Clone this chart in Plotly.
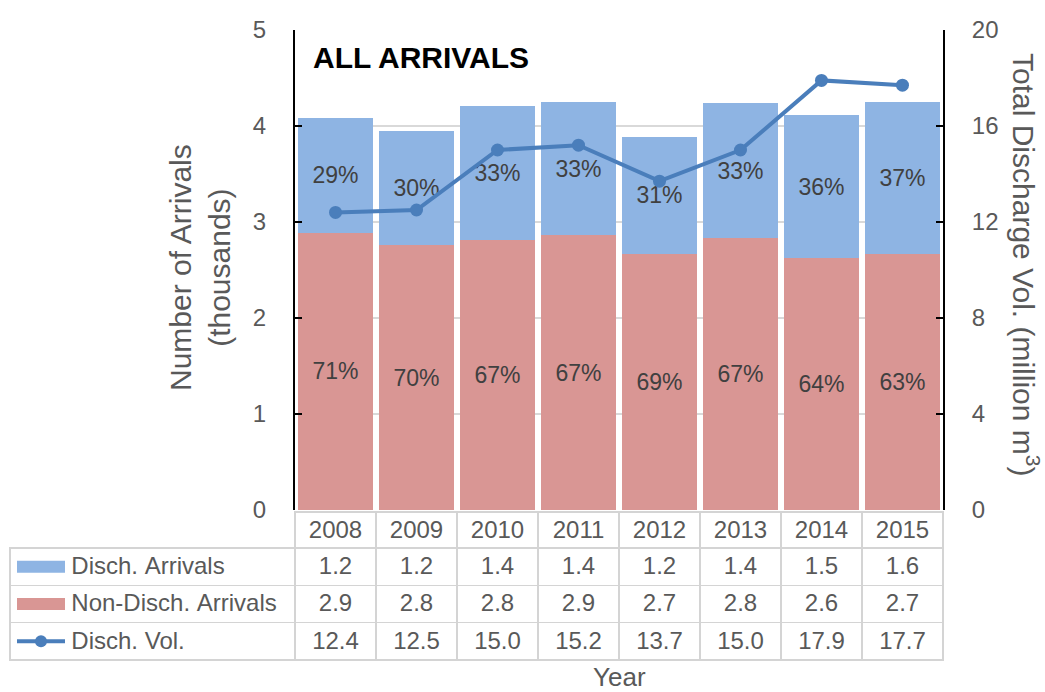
import plotly.graph_objects as go

# ---------------- data ----------------
years = ["2008", "2009", "2010", "2011", "2012", "2013", "2014", "2015"]
disch_arrivals = [1.19, 1.19, 1.40, 1.39, 1.22, 1.41, 1.49, 1.58]      # thousands
non_disch_arrivals = [2.89, 2.76, 2.81, 2.86, 2.67, 2.83, 2.62, 2.67]  # thousands
disch_vol = [12.4, 12.5, 15.0, 15.2, 13.7, 15.0, 17.9, 17.7]          # million m3
series_names = ["Disch. Arrivals", "Non-Disch. Arrivals", "Disch. Vol."]
left_ticks = [0, 1, 2, 3, 4, 5]
right_ticks = [0, 4, 8, 12, 16, 20]

# ---------------- style ----------------
BLUE = "#8EB4E3"
RED = "#D99694"
LINE = "#4A7EBB"
TXT = "#595959"
FONT = "Liberation Sans, Arial, sans-serif"
GRID = "#D4D4D4"

W, H = 1045, 692
ML, MR = 10, 10
PW = W - ML - MR


def px_x(px):
    return (px - ML) / PW


def px_y(py):
    return 1 - py / H


totals = [d + n for d, n in zip(disch_arrivals, non_disch_arrivals)]
pct_d = [round(100 * d / t) for d, t in zip(disch_arrivals, totals)]
pct_n = [100 - p for p in pct_d]

fig = go.Figure()

fig.add_trace(go.Bar(
    x=years, y=non_disch_arrivals, name=series_names[1],
    marker=dict(color=RED, line=dict(width=0)),
    text=[f"{p}%" for p in pct_n], textposition="inside",
    insidetextanchor="middle", textangle=0, constraintext="none",
    textfont=dict(size=23, color="#404040", family=FONT),
))
fig.add_trace(go.Bar(
    x=years, y=disch_arrivals, name=series_names[0],
    marker=dict(color=BLUE, line=dict(width=0)),
    text=[f"{p}%" for p in pct_d], textposition="inside",
    insidetextanchor="middle", textangle=0, constraintext="none",
    textfont=dict(size=23, color="#404040", family=FONT),
))
fig.add_trace(go.Scatter(
    x=years, y=disch_vol, yaxis="y2", name=series_names[2],
    mode="lines+markers", line=dict(color=LINE, width=4),
    marker=dict(color=LINE, size=13),
))

# data table (legend labels padded so the keys fit to their left)
NB = "\u00a0"
row_labels = [NB * 8 + s.replace(" ", NB) for s in series_names]
cols = [row_labels]
for i in range(len(years)):
    cols.append([f"{disch_arrivals[i]:.1f}", f"{non_disch_arrivals[i]:.1f}", f"{disch_vol[i]:.1f}"])

HDR_H, ROW_H, TAB_TOP = 36, 37.3, 512
fig.add_trace(go.Table(
    domain=dict(x=[px_x(ML), px_x(943)], y=[0, px_y(TAB_TOP)]),
    columnwidth=[285] + [81] * len(years),
    header=dict(
        values=[""] + years,
        height=HDR_H,
        fill=dict(color=["rgba(0,0,0,0)"] + ["white"] * len(years)),
        line=dict(color=["rgba(0,0,0,0)"] + [GRID] * len(years), width=1.5),
        font=dict(size=24, color=TXT, family=FONT),
        align="center",
    ),
    cells=dict(
        values=cols,
        height=ROW_H,
        fill_color="white",
        line=dict(color=GRID, width=1.5),
        font=dict(size=24, color=TXT, family=FONT),
        align=["left"] + ["center"] * len(years),
    ),
))

# legend keys inside the table's first column
row_c = [TAB_TOP + HDR_H + ROW_H * (i + 0.5) for i in range(3)]
shapes = [
    dict(type="rect", xref="paper", yref="paper", x0=px_x(17), x1=px_x(65),
         y0=px_y(row_c[0] + 6), y1=px_y(row_c[0] - 6), fillcolor=BLUE, line=dict(width=0)),
    dict(type="rect", xref="paper", yref="paper", x0=px_x(17), x1=px_x(65),
         y0=px_y(row_c[1] + 6), y1=px_y(row_c[1] - 6), fillcolor=RED, line=dict(width=0)),
    dict(type="line", xref="paper", yref="paper", x0=px_x(17), x1=px_x(65),
         y0=px_y(row_c[2]), y1=px_y(row_c[2]), line=dict(color=LINE, width=4)),
    dict(type="circle", xref="paper", yref="paper", x0=px_x(35), x1=px_x(47),
         y0=px_y(row_c[2] + 6), y1=px_y(row_c[2] - 6), fillcolor=LINE, line=dict(width=0)),
]

annotations = [
    dict(text="<b>ALL ARRIVALS</b>", x=px_x(311), y=px_y(58), xref="paper", yref="paper",
         xanchor="left", yanchor="middle", showarrow=False,
         font=dict(size=30, color="black", family=FONT)),
    dict(text="Number of Arrivals<br>(thousands)", x=px_x(200), y=px_y(268),
         xref="paper", yref="paper", textangle=-90, showarrow=False,
         xanchor="center", yanchor="middle",
         font=dict(size=30, color=TXT, family=FONT)),
    dict(text="Total Discharge Vol. (million m<sup>3</sup>)", x=px_x(1026), y=px_y(265),
         xref="paper", yref="paper", textangle=90, showarrow=False,
         xanchor="center", yanchor="middle",
         font=dict(size=30, color=TXT, family=FONT)),
    dict(text="Year", x=px_x(619), y=px_y(677), xref="paper", yref="paper",
         showarrow=False, xanchor="center", yanchor="middle",
         font=dict(size=26, color=TXT, family=FONT)),
]

fig.update_layout(
    width=W, height=H,
    margin=dict(l=ML, r=MR, t=0, b=0, autoexpand=False),
    paper_bgcolor="white", plot_bgcolor="white",
    barmode="stack", bargap=0.075,
    showlegend=False,
    font=dict(family=FONT, color=TXT),
    xaxis=dict(domain=[px_x(295), px_x(943)], showticklabels=False, automargin=False,
               showline=False, ticks="", showgrid=False, zeroline=False),
    yaxis=dict(domain=[px_y(510), px_y(30)], range=[0, 5], tickvals=left_ticks,
               automargin=False,
               ticks="inside", ticklen=7, tickwidth=2, tickcolor="black",
               showline=True, linecolor="black", linewidth=2,
               showgrid=True, gridcolor="#D9D9D9", gridwidth=1.5, zeroline=False,
               tickfont=dict(size=24, color=TXT, family=FONT),
               ticklabelstandoff=22),
    yaxis2=dict(overlaying="y", side="right", anchor="x", range=[0, 20],
                tickvals=right_ticks, automargin=False,
                ticks="inside", ticklen=7, tickwidth=2, tickcolor="black",
                showline=True, linecolor="black", linewidth=2,
                showgrid=False, zeroline=False,
                tickfont=dict(size=24, color=TXT, family=FONT),
                ticklabelstandoff=22),
    shapes=shapes,
    annotations=annotations,
)

fig.write_html("out.html")
